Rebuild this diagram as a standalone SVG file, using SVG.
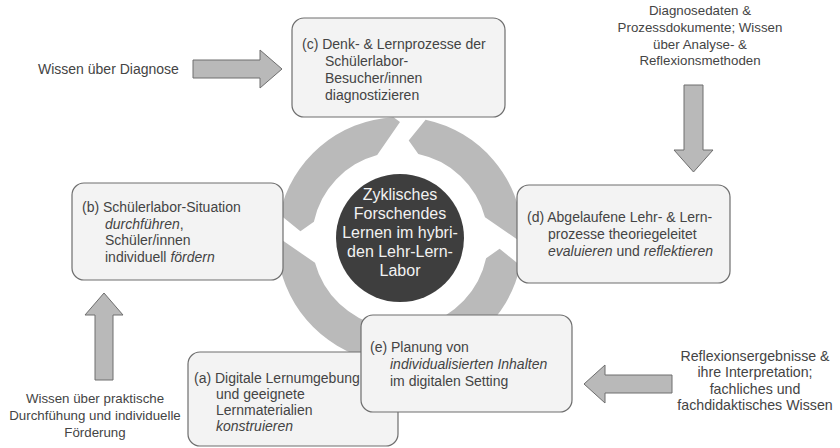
<svg xmlns="http://www.w3.org/2000/svg" width="840" height="448" viewBox="0 0 840 448">
<style>
.seg{fill:#bababa;stroke:none}
.box{fill:#f3f3f3;stroke:#6e6e6e;stroke-width:1.2}
.arr{fill:#b9b9b9;stroke:#6e6e6e;stroke-width:1}
text{font-family:"Liberation Sans",Arial,sans-serif;fill:#444}
.bt{font-size:14px}
.ct{font-size:16px;fill:#f2f2f2;text-anchor:middle}
.ot{font-size:13.3px;text-anchor:middle}
.it{font-style:italic}
</style>
<rect width="840" height="448" fill="#ffffff"/>
<g id="cycle">
<path class="seg" d="M425.6,119.7 A123,123 0 0 1 522.8,233.6 L518,240 L485,217.2 A88,88 0 0 0 418.3,153.9 L408.7,140.4 Z"/>
<path class="seg" d="M520.3,265.6 A123,123 0 0 1 406.4,362.8 L400,358 L422.8,325 A88,88 0 0 0 486.1,258.3 L499.6,248.7 Z"/>
<path class="seg" d="M374.4,360.3 A123,123 0 0 1 277.2,246.4 L282,240 L315,262.8 A88,88 0 0 0 381.7,326.1 L391.3,339.6 Z"/>
<path class="seg" d="M279.7,214.4 A123,123 0 0 1 393.6,117.2 L400,122 L377.2,155 A88,88 0 0 0 313.9,221.7 L300.4,231.3 Z"/>
</g>
<g id="center">
<circle cx="400" cy="238" r="64" fill="#3e3e3e"/>
<text class="ct" x="400" y="200">Zyklisches</text>
<text class="ct" x="400" y="219">Forschendes</text>
<text class="ct" x="400" y="238">Lernen im hybri-</text>
<text class="ct" x="400" y="257">den Lehr-Lern-</text>
<text class="ct" x="400" y="276">Labor</text>
</g>
<g id="node-b">
<rect class="box" x="72" y="183" width="211" height="97" rx="12"/>
<text class="bt" x="82" y="212">(b) Schülerlabor-Situation</text>
<text class="bt" x="105" y="228.5"><tspan class="it">durchführen</tspan>,</text>
<text class="bt" x="105" y="245">Schüler/innen</text>
<text class="bt" x="105" y="261.5">individuell <tspan class="it">fördern</tspan></text>
</g>
<g id="node-c">
<rect class="box" x="292" y="18" width="213" height="99" rx="12"/>
<text class="bt" x="302" y="49">(c) Denk- &amp; Lernprozesse der</text>
<text class="bt" x="325" y="66">Schülerlabor-</text>
<text class="bt" x="325" y="83">Besucher/innen</text>
<text class="bt" x="325" y="100">diagnostizieren</text>
</g>
<g id="node-d">
<rect class="box" x="517" y="185" width="213" height="98" rx="12"/>
<text class="bt" x="527" y="222">(d) Abgelaufene Lehr- &amp; Lern-</text>
<text class="bt" x="548" y="239">prozesse theoriegeleitet</text>
<text class="bt" x="548" y="256"><tspan class="it">evaluieren</tspan> und <tspan class="it">reflektieren</tspan></text>
</g>
<g id="node-a">
<rect class="box" x="188" y="352" width="210" height="94" rx="12"/>
<text class="bt" x="194" y="383">(a) Digitale Lernumgebung</text>
<text class="bt" x="216" y="399">und geeignete</text>
<text class="bt" x="216" y="415">Lernmaterialien</text>
<text class="bt it" x="216" y="431">konstruieren</text>
</g>
<g id="node-e">
<rect class="box" x="361" y="315" width="211" height="97" rx="12"/>
<text class="bt" x="370" y="352">(e) Planung von</text>
<text class="bt it" x="390" y="369">individualisierten Inhalten</text>
<text class="bt" x="390" y="386">im digitalen Setting</text>
</g>
<g id="connectors">
<polygon class="arr" points="193,60 260,60 260,50 282,69 260,88 260,78 193,78"/>
<polygon class="arr" points="684,85 703,85 703,150 713,150 693.5,172 674,150 684,150"/>
<polygon class="arr" points="672,375 605,375 605,365 584,384 605,403 605,393 672,393"/>
<polygon class="arr" points="95,380 95,315 85,315 104,293 123,315 113,315 113,380"/>
</g>
<g id="input-diagnose">
<text class="bt" x="38" y="74">Wissen über Diagnose</text>
</g>
<g id="input-daten">
<text class="ot" x="700" y="15">Diagnosedaten &amp;</text>
<text class="ot" x="700" y="32">Prozessdokumente; Wissen</text>
<text class="ot" x="700" y="48.5">über Analyse- &amp;</text>
<text class="ot" x="700" y="65">Reflexionsmethoden</text>
</g>
<g id="input-reflexion">
<text class="ot" style="font-size:14.2px" x="755" y="361">Reflexionsergebnisse &amp;</text>
<text class="ot" style="font-size:14.2px" x="755" y="377">ihre Interpretation;</text>
<text class="ot" style="font-size:14.2px" x="755" y="393.5">fachliches und</text>
<text class="ot" style="font-size:14.2px" x="755" y="410">fachdidaktisches Wissen</text>
</g>
<g id="input-praxis">
<text class="ot" x="95" y="403">Wissen über praktische</text>
<text class="ot" x="95" y="420">Durchfühung und individuelle</text>
<text class="ot" x="95" y="436.5">Förderung</text>
</g>
</svg>
